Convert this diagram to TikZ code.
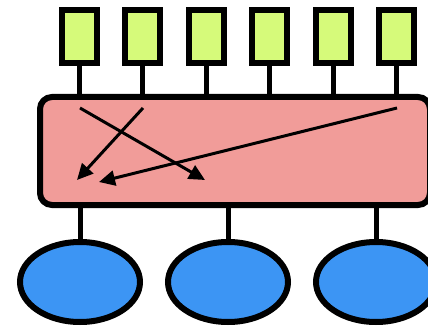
\documentclass[tikz,border=0pt]{standalone}
\usetikzlibrary{arrows.meta,shapes.geometric}
\definecolor{lime}{RGB}{214,250,122}
\definecolor{pinkbox}{RGB}{241,156,153}
\definecolor{bluee}{RGB}{60,149,244}
\begin{document}
\begin{tikzpicture}[x=1pt,y=-1pt,
  gbox/.style={draw=black,fill=lime,line width=6pt,minimum width=35pt,minimum height=53pt,inner sep=0pt},
  pbox/.style={draw=black,fill=pinkbox,line width=6pt,minimum width=390pt,minimum height=108pt,inner sep=0pt,rounded corners=12pt},
  bell/.style={draw=black,fill=bluee,line width=6pt,ellipse,minimum width=120pt,minimum height=80pt,inner sep=0pt},
  link/.style={line width=5pt},
  arr/.style={line width=3pt,-{Triangle[length=16pt,width=15pt]}}]
\useasboundingbox (0,0) rectangle (428,326);
\begin{scope}
\clip (0,0) rectangle (428,326);
\node[pbox] (p) at (235,151) {};
\foreach \i/\x in {1/79.5,2/142.5,3/206,4/269.5,5/333,6/396.5}{
  \node[gbox] (g\i) at (\x,36.5) {};
  \draw[link] (g\i.south) -- (g\i.south |- p.north);
}
\foreach \i/\x in {1/80,2/228,3/376}{
  \node[bell] (e\i) at (\x,282) {};
  \draw[link] (e\i.north) -- (e\i.north |- p.south);
}
\coordinate (a1s) at (80,108);
\coordinate (a1e) at (205,180);
\coordinate (a2s) at (143,108);
\coordinate (a2e) at (77,180);
\coordinate (a3s) at (397,108);
\coordinate (a3e) at (99,182);
\draw[arr] (a1s) -- (a1e);
\draw[arr] (a2s) -- (a2e);
\draw[arr] (a3s) -- (a3e);
\end{scope}
\end{tikzpicture}
\end{document}
